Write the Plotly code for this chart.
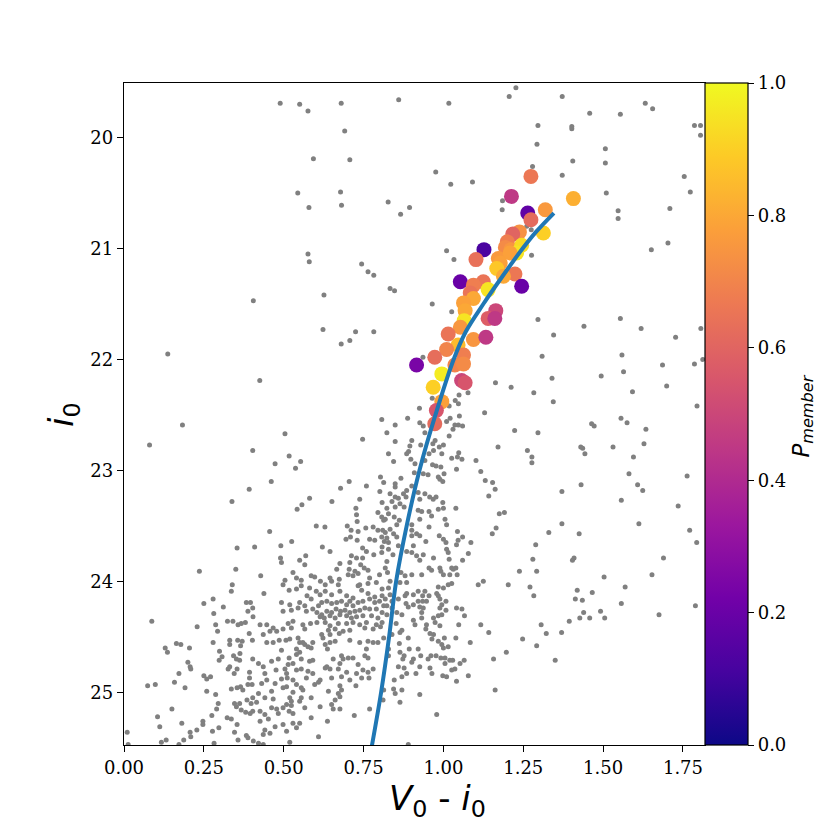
import plotly.graph_objects as go

# ---------------- data ----------------
# field stars: (V0 - i0, i0)
field_stars = [
    (0.489,19.69),(0.550,19.70),(0.576,19.76),(0.680,19.69),(0.860,19.66),(0.691,19.94),(0.593,20.19),(0.707,20.20),
    (0.544,20.50),(0.678,20.49),(0.579,20.63),(0.681,20.61),(0.827,20.58),(0.866,20.69),(0.894,20.63),(0.576,21.05),
    (0.580,21.12),(0.744,21.14),(0.764,21.21),(0.782,21.24),(0.833,21.36),(0.847,21.38),(0.405,21.47),(0.626,21.42),
    (0.623,21.73),(0.725,21.75),(0.782,21.75),(0.707,21.83),(0.680,21.86),(0.137,21.95),(0.425,22.19),(0.807,22.54),(0.888,22.53),
    (1.017,19.69),(1.206,19.63),(1.227,19.55),(1.372,19.63),(1.458,19.78),(1.554,19.79),(1.632,19.69),(1.655,19.74),
    (1.296,19.89),(1.402,19.90),(1.402,19.92),(1.786,19.89),(1.805,19.89),(1.805,19.98),(1.293,20.06),(1.507,20.10),
    (1.405,20.21),(1.507,20.23),(0.976,20.31),(1.023,20.42),(1.091,20.40),(1.279,20.26),(1.372,20.34),(1.754,20.35),
    (1.773,20.49),(1.510,20.50),(1.185,20.57),(1.184,20.65),(1.547,20.66),(1.547,20.73),(1.709,20.64),(1.261,20.80),
    (1.275,20.83),(1.010,21.02),(1.033,21.10),(1.276,21.06),(1.703,20.95),(1.651,21.01),
    (0.965,21.50),(1.026,21.57),(1.296,21.64),(1.345,21.78),(1.440,21.70),(1.554,21.63),(1.619,21.72),(1.727,21.80),
    (1.806,21.72),(1.309,21.97),(1.559,21.96),(1.686,22.05),(1.786,22.04),(1.812,22.00),(0.936,21.98),(1.340,22.17),
    (1.494,22.15),(1.564,22.11),(1.699,22.24),(1.592,22.29),(1.163,22.21),(1.212,22.25),(1.283,22.30),(1.344,22.38),
    (1.794,22.42),(1.129,22.48),(1.077,22.30),(1.049,22.32),(1.037,22.37),(1.047,22.40),(1.018,22.42),(0.965,22.35),
    (0.925,22.44),(1.050,22.51),(1.021,22.53),(1.010,22.56),(1.047,22.59),(1.060,22.60),(1.030,22.63),(0.926,22.57),
    (0.937,22.60),(1.464,22.58),(1.472,22.60),(1.556,22.53),(1.575,22.57),(1.634,22.63),(1.223,22.64),
    (0.183,22.59),(0.080,22.77),(0.403,22.82),(0.392,23.17),(0.338,23.28),(0.354,23.70),(0.409,23.69),(0.350,23.89),
    (0.236,23.91),(0.339,24.03),
    (0.504,22.67),(0.517,22.87),(0.473,22.94),(0.553,22.92),(0.537,22.98),(0.747,22.72),(0.461,23.10),(0.705,23.10),
    (0.678,23.16),(0.759,23.14),(0.803,23.06),(0.813,23.11),(0.801,23.19),(0.581,23.25),(0.651,23.28),(0.557,23.31),
    (0.542,23.35),(0.738,23.26),(0.726,23.34),(0.728,23.40),(0.730,23.46),(0.795,23.38),(0.807,23.42),(0.813,23.45),
    (0.456,23.55),(0.602,23.50),(0.629,23.51),(0.699,23.50),(0.711,23.54),(0.733,23.55),(0.757,23.52),(0.780,23.51),
    (0.795,23.54),(0.810,23.54),(0.709,23.60),(0.695,23.62),(0.730,23.63),(0.769,23.62),(0.785,23.63),(0.807,23.60),
    (0.491,23.68),(0.525,23.64),(0.621,23.69),(0.645,23.73),(0.747,23.70),(0.759,23.73),(0.782,23.76),(0.807,23.74),
    (0.490,23.79),(0.493,23.83),(0.550,23.81),(0.569,23.77),(0.566,23.85),(0.676,23.84),(0.666,23.89),(0.712,23.77),
    (0.728,23.79),(0.747,23.79),(0.707,23.83),(0.741,23.85),(0.752,23.88),(0.705,23.89),(0.723,23.91),(0.764,23.90),
    (0.428,23.95),(0.529,23.92),(0.586,23.95),(0.597,23.96),(0.540,23.97),(0.555,23.99),(0.615,24.00),(0.645,23.97),
    (0.650,24.00),(0.674,23.98),(0.702,23.94),(0.717,23.95),(0.733,23.93),(0.769,23.97),(0.800,23.94),(0.504,23.99),
    (0.498,24.03),(0.738,24.03),(0.764,24.02),(0.790,24.01),
    (0.849,22.59),(0.823,22.66),(0.942,22.66),(1.018,22.69),(1.036,22.59),(0.901,22.73),(0.895,22.78),(0.929,22.77),
    (0.967,22.76),(0.974,22.73),(0.987,22.79),(1.000,22.77),(0.849,22.74),(1.171,22.79),(0.891,22.83),(0.885,22.85),
    (0.828,22.85),(0.955,22.85),(0.969,22.82),(0.995,22.85),(1.048,22.84),(1.026,22.89),(1.044,22.88),(1.058,22.90),
    (0.844,22.92),(0.898,22.90),(0.942,22.91),(1.102,22.91),(0.911,22.94),(0.966,22.95),(0.977,22.96),(0.992,22.97),
    (1.041,22.99),(1.117,23.01),(0.909,23.02),(0.937,23.03),(0.952,23.04),(1.002,23.03),(0.984,23.06),(0.989,23.08),
    (0.998,23.10),(0.867,23.07),(0.849,23.12),(0.849,23.15),(0.901,23.14),(1.131,23.09),(1.154,23.11),(1.162,23.17),
    (1.142,23.23),(0.833,23.21),(0.849,23.24),(0.859,23.25),(0.875,23.21),(0.885,23.18),(0.883,23.24),(0.921,23.20),
    (0.942,23.21),(0.957,23.24),(0.968,23.26),(0.977,23.24),(0.926,23.26),(0.998,23.29),(0.808,23.29),(0.839,23.28),
    (0.864,23.30),(0.877,23.33),(0.849,23.33),(0.823,23.34),(0.921,23.36),(0.932,23.37),(0.955,23.37),(0.984,23.35),
    (1.000,23.34),(1.039,23.34),(0.963,23.41),(0.828,23.39),(0.846,23.42),(0.818,23.44),(0.862,23.45),(0.926,23.44),
    (1.005,23.44),(1.175,23.39),(1.191,23.38),(0.854,23.49),(0.901,23.49),(1.010,23.49),(0.955,23.51),(1.165,23.52),
    (0.818,23.56),(0.833,23.53),(0.844,23.57),(0.901,23.54),(0.916,23.57),(1.044,23.55),(1.153,23.57),(0.823,23.61),
    (0.854,23.60),(0.901,23.59),(0.926,23.59),(0.987,23.59),(1.060,23.60),(0.815,23.64),(0.828,23.65),(0.945,23.64),
    (1.000,23.62),(1.008,23.65),(1.046,23.63),(1.086,23.65),(0.808,23.69),(0.828,23.71),(0.859,23.68),(0.906,23.68),
    (1.041,23.67),(0.842,23.76),(0.885,23.73),(0.901,23.74),(1.010,23.71),(1.015,23.74),(1.078,23.75),(0.916,23.77),
    (0.937,23.76),(0.969,23.79),(1.018,23.80),(1.060,23.81),(0.926,23.81),(0.823,23.82),(0.818,23.88),(0.825,23.92),
    (0.955,23.88),(0.963,23.90),(0.989,23.88),(0.992,23.91),(1.026,23.88),(1.031,23.89),(1.039,23.88),(0.867,23.92),
    (0.880,23.95),(0.901,23.94),(0.932,23.94),(1.000,23.94),(1.020,23.94),(1.043,23.94),(0.833,24.00),(0.864,24.01),
    (1.026,24.02),(1.109,24.03),(1.125,24.00),(1.203,24.03),(1.238,23.91),
    (0.336,24.09),(0.279,24.16),(0.250,24.20),(0.311,24.23),(0.383,24.19),(0.396,24.19),(0.403,24.24),(0.388,24.27),
    (0.281,24.29),(0.404,24.32),(0.087,24.36),(0.324,24.36),(0.341,24.36),(0.357,24.39),(0.367,24.38),(0.380,24.37),
    (0.287,24.39),(0.229,24.41),(0.293,24.45),(0.392,24.47),(0.402,24.53),(0.331,24.53),(0.356,24.53),(0.370,24.54),
    (0.331,24.57),(0.365,24.58),(0.279,24.55),(0.164,24.56),(0.178,24.57),(0.129,24.60),(0.136,24.64),(0.205,24.60),
    (0.299,24.63),(0.363,24.65),(0.343,24.67),(0.307,24.68),(0.298,24.71),(0.352,24.70),(0.362,24.71),(0.403,24.70),
    (0.200,24.73),(0.207,24.77),(0.209,24.79),(0.331,24.77),(0.326,24.79),(0.354,24.79),(0.345,24.83),(0.393,24.82),
    (0.172,24.83),(0.250,24.85),(0.259,24.88),(0.271,24.86),(0.393,24.87),(0.158,24.91),(0.074,24.94),(0.098,24.93),
    (0.191,24.96),(0.336,24.97),(0.354,24.96),(0.372,24.98),(0.365,24.95),(0.388,24.93),(0.401,24.93),(0.259,24.99),
    (0.287,25.02),(0.385,25.07),(0.403,25.05),(0.295,25.10),(0.346,25.10),(0.352,25.13),(0.362,25.10),(0.367,25.16),
    (0.381,25.18),(0.395,25.19),(0.403,25.17),(0.290,25.15),(0.150,25.15),(0.275,25.21),(0.323,25.23),(0.336,25.24),
    (0.105,25.22),(0.247,25.26),(0.247,25.29),(0.181,25.28),(0.354,25.29),(0.112,25.31),(0.297,25.32),(0.228,25.34),
    (0.207,25.36),(0.277,25.35),(0.346,25.36),(0.010,25.36),(0.209,25.40),(0.383,25.39),(0.388,25.41),(0.187,25.43),
    (0.132,25.43),(0.117,25.45),(0.282,25.46),(0.357,25.43),(0.405,25.44),(0.013,25.47),(0.172,25.47),
    (0.517,24.08),(0.438,24.11),(0.540,24.07),(0.555,24.04),(0.581,24.06),(0.602,24.09),(0.614,24.12),(0.573,24.13),
    (0.586,24.16),(0.630,24.03),(0.630,24.09),(0.650,24.12),(0.671,24.03),(0.676,24.09),(0.697,24.13),(0.717,24.15),
    (0.733,24.04),(0.744,24.08),(0.764,24.11),(0.785,24.14),(0.808,24.13),
    (0.493,24.19),(0.519,24.21),(0.550,24.19),(0.566,24.22),(0.498,24.27),(0.524,24.26),(0.545,24.24),(0.571,24.27),
    (0.591,24.25),(0.609,24.22),(0.619,24.19),(0.635,24.18),(0.650,24.20),(0.666,24.19),(0.681,24.18),(0.697,24.21),
    (0.707,24.18),(0.717,24.22),(0.733,24.19),(0.748,24.18),(0.769,24.16),(0.785,24.19),(0.800,24.18),(0.813,24.22),
    (0.604,24.28),(0.619,24.30),(0.635,24.27),(0.650,24.28),(0.664,24.25),(0.678,24.27),(0.692,24.26),(0.707,24.28),
    (0.723,24.27),(0.738,24.26),(0.754,24.24),(0.769,24.25),(0.790,24.25),(0.808,24.28),
    (0.614,24.32),(0.627,24.33),(0.645,24.31),(0.661,24.33),(0.676,24.30),(0.697,24.31),(0.712,24.33),(0.728,24.32),
    (0.748,24.31),(0.775,24.31),(0.795,24.33),
    (0.426,24.39),(0.447,24.39),(0.467,24.42),(0.478,24.45),(0.514,24.38),(0.529,24.36),(0.560,24.39),(0.584,24.38),
    (0.604,24.37),(0.630,24.37),(0.645,24.40),(0.671,24.38),(0.697,24.38),(0.717,24.37),(0.738,24.39),(0.759,24.37),
    (0.790,24.39),(0.808,24.37),
    (0.457,24.45),(0.498,24.43),(0.524,24.42),(0.566,24.43),(0.640,24.44),(0.661,24.43),(0.686,24.45),(0.707,24.44),
    (0.754,24.42),(0.780,24.43),
    (0.436,24.48),(0.619,24.48),(0.645,24.48),(0.674,24.47),(0.623,24.51),
    (0.447,24.55),(0.467,24.55),(0.486,24.53),(0.507,24.53),(0.519,24.52),(0.545,24.51),(0.550,24.55),(0.560,24.55),
    (0.566,24.57),(0.576,24.59),(0.591,24.55),(0.630,24.57),(0.645,24.55),(0.661,24.54),(0.707,24.53),(0.738,24.55),
    (0.764,24.54),(0.780,24.55),(0.795,24.55),(0.813,24.51),
    (0.493,24.62),(0.540,24.61),(0.586,24.60),(0.637,24.61),(0.759,24.61),
    (0.421,24.74),(0.462,24.72),(0.483,24.70),(0.517,24.69),(0.540,24.66),(0.550,24.64),(0.555,24.70),(0.581,24.72),
    (0.591,24.71),(0.655,24.70),(0.681,24.67),(0.686,24.70),(0.702,24.69),(0.717,24.69),(0.754,24.67),(0.764,24.69),
    (0.436,24.77),(0.514,24.75),(0.529,24.74),(0.635,24.77),(0.630,24.78),(0.645,24.79),(0.676,24.74),(0.733,24.75),
    (0.441,24.83),(0.476,24.80),(0.504,24.79),(0.509,24.83),(0.540,24.80),(0.555,24.79),(0.576,24.81),(0.591,24.83),
    (0.671,24.79),(0.697,24.82),(0.728,24.83),(0.748,24.80),(0.764,24.82),(0.780,24.79),
    (0.447,24.89),(0.493,24.88),(0.511,24.87),(0.529,24.89),(0.571,24.87),(0.614,24.89),(0.609,24.91),(0.650,24.87),
    (0.681,24.86),(0.707,24.89),(0.744,24.87),(0.767,24.87),
    (0.431,24.92),(0.473,24.92),(0.498,24.96),(0.509,24.95),(0.540,24.93),(0.555,24.96),(0.597,24.93),(0.676,24.94),
    (0.726,24.94),
    (0.421,25.01),(0.462,24.99),(0.529,25.00),(0.560,24.98),(0.640,24.99),(0.671,25.01),(0.681,24.98),
    (0.441,25.05),(0.467,25.06),(0.519,25.05),(0.524,25.08),(0.555,25.05),(0.586,25.05),(0.661,25.07),(0.676,25.04),
    (0.398,25.10),(0.415,25.09),(0.462,25.14),(0.478,25.15),(0.498,25.14),(0.509,25.11),(0.524,25.12),(0.550,25.08),
    (0.566,25.14),(0.614,25.13),(0.650,25.11),(0.655,25.15),(0.676,25.15),(0.769,25.15),
    (0.426,25.17),(0.441,25.20),(0.483,25.19),(0.517,25.17),(0.529,25.19),(0.586,25.23),(0.721,25.21),
    (0.426,25.26),(0.452,25.24),(0.473,25.31),(0.498,25.29),(0.529,25.28),(0.550,25.28),(0.637,25.26),
    (0.441,25.34),(0.457,25.37),(0.436,25.38),(0.509,25.35),(0.540,25.32),(0.609,25.40),
    (0.421,25.46),(0.436,25.47),(0.519,25.45),
    (0.885,24.01),(0.808,24.07),(0.828,24.06),(0.833,24.12),(0.885,24.11),(0.880,24.13),(0.906,24.12),(0.921,24.09),
    (0.942,24.09),(0.955,24.13),(0.935,24.13),(0.984,24.05),(1.000,24.06),(1.015,24.03),(0.984,24.13),(0.979,24.11),
    (0.818,24.16),(0.839,24.18),(0.823,24.22),(0.839,24.24),(0.859,24.16),(0.883,24.20),(0.890,24.23),(0.906,24.21),
    (0.921,24.18),(0.935,24.18),(0.947,24.18),(0.926,24.23),(0.937,24.24),(0.989,24.16),(1.008,24.18),(0.995,24.21),
    (0.989,24.24),(1.008,24.26),(1.041,24.24),(1.058,24.25),
    (0.823,24.30),(0.854,24.28),(0.870,24.30),(0.932,24.28),(0.932,24.33),(0.969,24.33),(0.984,24.31),(0.995,24.30),
    (1.066,24.31),
    (0.906,24.35),(0.911,24.39),(0.852,24.38),(0.803,24.41),(0.947,24.39),(0.974,24.37),(0.989,24.40),(0.945,24.43),
    (0.958,24.47),(1.048,24.39),(1.117,24.39),
    (0.870,24.44),(0.864,24.46),(0.839,24.48),(0.890,24.51),(0.969,24.48),(0.964,24.52),(0.984,24.54),(1.003,24.51),
    (1.039,24.51),(0.995,24.57),(1.000,24.60),(1.015,24.59),(0.862,24.56),(0.828,24.61),(0.893,24.61),(0.921,24.61),
    (1.084,24.55),(1.142,24.46),(1.248,24.52),(1.197,24.64),
    (0.828,24.67),(0.864,24.64),(0.877,24.67),(0.873,24.70),(0.901,24.73),(0.906,24.70),(0.929,24.67),(0.952,24.70),
    (0.961,24.67),(0.977,24.67),(0.992,24.69),(1.005,24.69),(1.020,24.71),(1.005,24.74),(1.029,24.71),(1.052,24.74),
    (1.065,24.71),(1.157,24.70),
    (0.859,24.77),(0.877,24.78),(0.926,24.77),(0.958,24.78),(1.026,24.80),(1.036,24.79),
    (0.885,24.83),(0.914,24.83),(0.964,24.83),(0.998,24.85),(1.010,24.86),(1.078,24.85),(0.870,24.86),(0.846,24.89),
    (1.041,24.90),
    (0.844,24.97),(0.849,25.01),(0.870,24.98),(0.926,25.02),(0.813,24.98),(0.811,25.07),(0.864,25.09),(1.162,24.98),
    (0.979,25.20),(0.890,25.47),
    (1.296,22.66),(1.263,22.82),(1.277,22.88),(1.277,22.93),(1.430,22.79),(1.436,22.80),(1.443,22.85),(1.531,22.79),
    (1.628,22.76),(1.595,22.88),(1.581,23.03),(1.608,23.13),(1.624,23.18),(1.557,23.27),(1.763,23.05),(1.735,23.32),
    (1.371,23.19),(1.431,23.13),(1.371,23.48),(1.330,23.56),(1.425,23.57),(1.612,23.48),(1.771,23.54),(1.793,23.65),
    (1.289,23.67),(1.280,23.80),(1.292,23.91),(1.404,23.81),(1.409,23.79),(1.689,23.79),(1.653,23.94),(1.503,23.96),
    (1.271,24.05),(1.283,24.13),(1.419,24.08),(1.466,24.10),(1.413,24.16),(1.435,24.17),(1.569,24.05),(1.557,24.20),
    (1.789,24.22),(1.675,24.30),(1.439,24.28),(1.492,24.27),(1.427,24.33),(1.458,24.33),(1.505,24.33),(1.394,24.36),
    (1.306,24.39),(1.322,24.47),(1.370,24.46),(1.292,24.58),(1.350,24.71),
]
field_color = [c for c, m in field_stars]
field_mag = [m for c, m in field_stars]

# candidate members: colour, magnitude, membership probability
member_color = [1.274, 1.213, 1.407, 1.264, 1.319, 1.274, 1.313, 1.238, 1.217, 1.200, 1.194, 1.212, 1.245,
                1.127, 1.102, 1.172, 1.229, 1.209, 1.178, 1.167, 1.224, 1.188, 1.053, 1.245, 1.125, 1.094,
                1.140, 1.084, 1.094, 1.063, 1.068, 1.164, 1.140, 1.161, 1.065, 1.053, 1.094, 1.133, 1.015,
                1.046, 1.010, 1.063, 0.973, 0.916, 1.036, 1.063, 0.995, 1.057, 1.068, 0.968, 0.995, 0.978, 0.973]
member_mag = [20.35, 20.53, 20.55, 20.68, 20.65, 20.74, 20.86, 20.85, 20.87, 20.94, 20.99, 21.01, 20.97,
              21.01, 21.10, 21.09, 21.04, 21.04, 21.13, 21.18, 21.23, 21.25, 21.30, 21.34, 21.30, 21.33,
              21.37, 21.40, 21.45, 21.49, 21.56, 21.56, 21.63, 21.63, 21.65, 21.71, 21.82, 21.80, 21.77,
              21.87, 21.91, 21.96, 21.98, 22.05, 22.05, 22.04, 22.13, 22.19, 22.21, 22.25, 22.38, 22.46, 22.58]
member_prob = [0.66, 0.45, 0.82, 0.18, 0.76, 0.62, 0.90, 0.74, 0.60, 0.68, 0.72, 0.75, 0.93,
               0.12, 0.64, 0.76, 0.95, 0.78, 0.78, 0.88, 0.66, 0.80, 0.20, 0.20, 0.65, 0.68,
               0.95, 0.65, 0.80, 0.78, 0.80, 0.50, 0.58, 0.45, 0.95, 0.75, 0.75, 0.45, 0.65,
               0.85, 0.70, 0.68, 0.63, 0.24, 0.70, 0.72, 0.97, 0.50, 0.55, 0.90, 0.78, 0.55, 0.62]

# isochrone
iso_color = [0.775, 0.805, 0.830, 0.852, 0.885, 0.925, 0.975, 1.032, 1.070, 1.125, 1.185, 1.248, 1.290, 1.346]
iso_mag = [25.50, 25.00, 24.50, 24.00, 23.50, 23.00, 22.50, 22.00, 21.75, 21.50, 21.25, 21.00, 20.85, 20.68]

x_ticks = [0.0, 0.25, 0.5, 0.75, 1.0, 1.25, 1.5, 1.75]
x_ticklabels = ["0.00", "0.25", "0.50", "0.75", "1.00", "1.25", "1.50", "1.75"]
y_ticks = [20, 21, 22, 23, 24, 25]
cb_ticks = [0.0, 0.2, 0.4, 0.6, 0.8, 1.0]
cb_ticklabels = ["0.0", "0.2", "0.4", "0.6", "0.8", "1.0"]

# ---------------- figure ----------------
SERIF = "DejaVu Serif"
SANS = "DejaVu Sans"

fig = go.Figure()
fig.add_trace(go.Scatter(
    x=field_color, y=field_mag, mode="markers",
    marker=dict(size=5, color="#808080", line=dict(width=0)),
    hoverinfo="skip", showlegend=False))
fig.add_trace(go.Scatter(
    x=member_color, y=member_mag, mode="markers",
    marker=dict(size=15, color=member_prob, colorscale="Plasma", cmin=0, cmax=1,
                line=dict(width=0),
                colorbar=dict(x=1.0, xanchor="left", xpad=0, y=0.5, yanchor="middle",
                              len=1, lenmode="fraction", ypad=0,
                              thickness=43, thicknessmode="pixels",
                              outlinewidth=1.2, outlinecolor="black",
                              tickvals=cb_ticks, ticktext=cb_ticklabels,
                              ticks="outside", ticklen=6, tickwidth=1.2, tickcolor="black",
                              tickfont=dict(family=SERIF, size=18, color="black"))),
    showlegend=False))
fig.add_trace(go.Scatter(
    x=iso_color, y=iso_mag, mode="lines",
    line=dict(color="#1f77b4", width=4, shape="spline", smoothing=1.0),
    showlegend=False))

axis_common = dict(showgrid=False, zeroline=False, showline=True, linecolor="black", linewidth=1.3,
                   mirror=True, ticks="outside", ticklen=6, tickwidth=1.3, tickcolor="black",
                   tickfont=dict(family=SERIF, size=18, color="black"))
fig.update_xaxes(range=[0, 1.819], tickvals=x_ticks, ticktext=x_ticklabels, **axis_common)
fig.update_yaxes(range=[25.475, 19.508], tickvals=y_ticks, ticktext=[str(v) for v in y_ticks], **axis_common)

fig.update_layout(
    width=830, height=830,
    margin=dict(l=116, r=133, t=75, b=93),
    plot_bgcolor="white", paper_bgcolor="white",
    annotations=[
        dict(text="<i>V</i><sub>0</sub> - <i>i</i><sub>0</sub>", xref="paper", yref="paper",
             x=0.539, y=-0.084, xanchor="center", yanchor="middle", showarrow=False,
             font=dict(family=SANS, size=34, color="black")),
        dict(text="<i>i</i><sub>0</sub>", xref="paper", yref="paper",
             x=-0.105, y=0.5, xanchor="center", yanchor="middle", showarrow=False, textangle=-90,
             font=dict(family=SANS, size=34, color="black")),
        dict(text="<i>P</i><sub><i>member</i></sub>", xref="paper", yref="paper",
             x=1.168, y=0.497, xanchor="center", yanchor="middle", showarrow=False, textangle=-90,
             font=dict(family=SANS, size=23, color="black")),
    ],
)

fig.write_html("out.html")
